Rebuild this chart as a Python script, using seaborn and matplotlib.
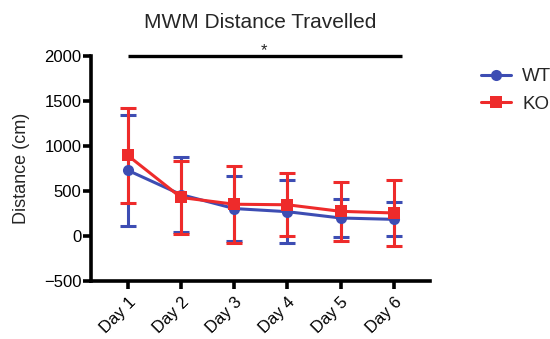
import numpy as np
import pandas as pd
import matplotlib
matplotlib.use("Agg")
import matplotlib.pyplot as plt
import seaborn as sns

days = ["Day 1", "Day 2", "Day 3", "Day 4", "Day 5", "Day 6"]
wt_mean = [730, 460, 305, 270, 200, 185]
wt_err = [615, 420, 365, 350, 210, 190]
ko_mean = [895, 428, 353, 347, 274, 256]
ko_err = [525, 405, 428, 350, 326, 365]
groups = ["WT", "KO"]
colors = {"WT": "#3D4DB3", "KO": "#EE2B2B"}
markers = {"WT": "o", "KO": "s"}

sns.set_theme(style="ticks")
plt.rcParams["font.family"] = ["Liberation Sans", "DejaVu Sans"]

x = np.arange(len(days))
df = pd.DataFrame({
    "day": np.concatenate([x, x]),
    "distance": wt_mean + ko_mean,
    "group": ["WT"] * len(days) + ["KO"] * len(days),
})

fig = plt.figure(figsize=(5.5, 3.39), dpi=100)
ax = fig.add_axes([0.1655, 0.171, 0.6165, 0.664])

errs = {"WT": (wt_mean, wt_err), "KO": (ko_mean, ko_err)}
for g in groups:
    m, e = errs[g]
    ax.errorbar(x, m, yerr=e, fmt="none", ecolor=colors[g], elinewidth=2.2,
                capsize=5.5, capthick=2.2, zorder=2)

sns.lineplot(data=df, x="day", y="distance", hue="group", style="group",
             hue_order=groups, style_order=groups, palette=colors,
             markers=markers, dashes=False, linewidth=2.2, markersize=8,
             markeredgewidth=0, ax=ax, zorder=3)

ax.set_xlim(-0.69, 5.68)
ax.set_ylim(-500, 2000)
ax.set_yticks([-500, 0, 500, 1000, 1500, 2000])
ax.set_xticks(x)
ax.set_xticklabels(days, rotation=45, ha="right", rotation_mode="anchor")
ax.set_xlabel("")
ax.set_ylabel("Distance (cm)", fontsize=13, labelpad=10)
ax.set_title("MWM Distance Travelled", fontsize=15, pad=20)

for side in ["left", "bottom"]:
    ax.spines[side].set_linewidth(2.6)
    ax.spines[side].set_color("black")
for side in ["top", "right"]:
    ax.spines[side].set_visible(False)
ax.tick_params(axis="both", width=2.6, length=6, color="black",
               labelsize=12, labelcolor="black")
ax.tick_params(axis="y", pad=1)
ax.tick_params(axis="x", pad=4)

# significance bar across all days
ax.plot([0, 5.15], [2000, 2000], color="black", lw=2.4, clip_on=False,
        solid_capstyle="butt", zorder=4)
ax.text(2.55, 1975, "*", ha="center", va="bottom", fontsize=12)

leg = ax.legend(loc="upper left", bbox_to_anchor=(1.1, 1.02), frameon=False,
                fontsize=13.5, handlelength=1.6, labelspacing=0.55,
                handletextpad=0.6)
for h in leg.legend_handles:
    h.set_linewidth(2.2)

fig.savefig("out.png", dpi=100)
